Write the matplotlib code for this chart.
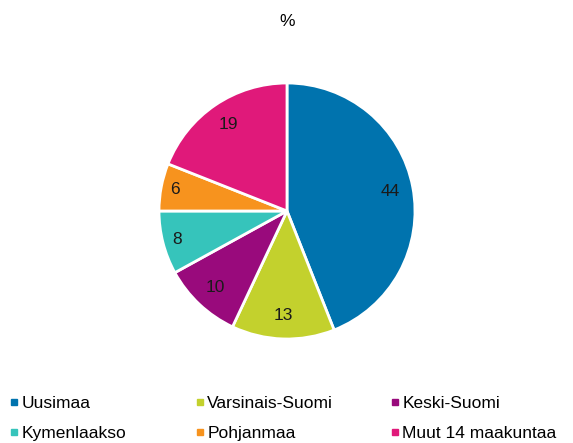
import numpy as np
import matplotlib.pyplot as plt
from matplotlib.lines import Line2D

plt.rcParams['font.family'] = ['Liberation Sans', 'DejaVu Sans']

# data
regions = ['Uusimaa', 'Varsinais-Suomi', 'Keski-Suomi',
           'Kymenlaakso', 'Pohjanmaa', 'Muut 14 maakuntaa']
shares = [44, 13, 10, 8, 6, 19]
colors = ['#0073ae', '#c3d12d', '#990a7c', '#36c4bb', '#f7931e', '#e0197a']

W, H = 573, 443
fig = plt.figure(figsize=(W / 100, H / 100), dpi=100)

# pie axes placed in pixel terms: center (287, 211), radius 128
cx, cy, r = 287, 211, 128
ax = fig.add_axes([(cx - r) / W, (H - cy - r) / H, 2 * r / W, 2 * r / H])
wedges, texts = ax.pie(shares, colors=colors, startangle=90, counterclock=False,
                       labels=[str(v) for v in shares], labeldistance=0.82,
                       wedgeprops=dict(edgecolor='white', linewidth=2),
                       textprops=dict(fontsize=12.5, color='#1a1a1a'))
# small slices: push label a bit further out, like the original
for w, t, v in zip(wedges, texts, shares):
    t.set_horizontalalignment('center')
    t.set_verticalalignment('center')
    if v < 9:
        a = np.deg2rad((w.theta1 + w.theta2) / 2)
        t.set_position((0.89 * np.cos(a), 0.89 * np.sin(a)))
ax.set_xlim(-1, 1)
ax.set_ylim(-1, 1)
ax.set_aspect('equal')

fig.text(cx / W, 1 - 22 / H, '%', ha='center', va='center', fontsize=12.5)

# legend: three columns, two rows each
col_x = [9, 195, 390]
for c in range(3):
    idx = [c, c + 3]
    handles = [Line2D([], [], marker='s', linestyle='none', markersize=5,
                      markerfacecolor=colors[i], markeredgecolor=colors[i]) for i in idx]
    leg = fig.legend(handles, [regions[i] for i in idx], loc='upper left',
                     bbox_to_anchor=(col_x[c] / W, 1 - 396 / H), frameon=False,
                     fontsize=12.5, handlelength=0.6, handletextpad=0.1,
                     labelspacing=0.85, borderaxespad=0, borderpad=0)

fig.savefig('out.png', dpi=100)
